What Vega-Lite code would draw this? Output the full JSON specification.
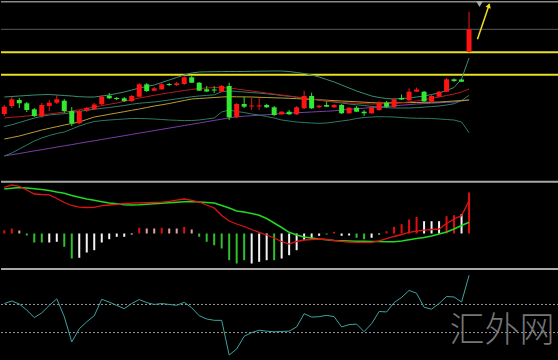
{
"$schema": "https://vega.github.io/schema/vega-lite/v6.json",
"background": "#000000",
"padding": 0,
"spacing": 0,
"config": {"view": {"stroke": null}, "concat": {"spacing": 0}},
"resolve": {"scale": {"color": "independent"}},
"datasets": {
"k": [
{"i":0,"o":66,"h":75,"l":64,"c":73.3,"u":83,"mid":53.5,"lo":24,"r":62,"yl":41,"p":24,"mh":3.3,"hc":"r","md":46.2,"sg":44.5,"cci":106.7},
{"i":1,"o":74,"h":83,"l":72,"c":80.7,"u":83.5,"mid":55.25,"lo":27,"r":62.7,"yl":42.5,"p":25.3,"mh":5,"hc":"r","md":48.5,"sg":45.3,"cci":124.7},
{"i":2,"o":80,"h":82,"l":72,"c":76.7,"u":84,"mid":57.5,"lo":31,"r":63.3,"yl":44,"p":26.5,"mh":3,"hc":"p","md":47.2,"sg":46,"cci":103.3},
{"i":3,"o":76.7,"h":78,"l":68,"c":70,"u":84.5,"mid":59.75,"lo":35,"r":64,"yl":46,"p":27.8,"mh":-2,"hc":"g","md":43.5,"sg":45.5,"cci":60},
{"i":4,"o":70.7,"h":72,"l":63,"c":64,"u":85,"mid":62,"lo":39,"r":64.7,"yl":48,"p":29.1,"mh":-9,"hc":"g","md":39.5,"sg":44.8,"cci":6.7},
{"i":5,"o":64,"h":77,"l":62,"c":75,"u":85.3,"mid":63.65,"lo":42,"r":65.3,"yl":50,"p":30.3,"mh":-9,"hc":"g","md":39,"sg":44,"cci":40},
{"i":6,"o":74,"h":80,"l":69,"c":77.3,"u":85.5,"mid":65,"lo":44.5,"r":66,"yl":51.7,"p":31.6,"mh":-9,"hc":"w","md":38.7,"sg":43,"cci":93.3},
{"i":7,"o":77.3,"h":85,"l":76,"c":80.7,"u":85,"mid":65.75,"lo":46.5,"r":67,"yl":53.3,"p":32.9,"mh":-8.3,"hc":"w","md":35,"sg":41.5,"cci":140},
{"i":8,"o":79.3,"h":81,"l":67,"c":69,"u":84.5,"mid":66.25,"lo":48,"r":68,"yl":55,"p":34.2,"mh":-13.3,"hc":"g","md":31,"sg":40.2,"cci":13.3},
{"i":9,"o":69,"h":73,"l":54,"c":56.7,"u":84,"mid":67.5,"lo":51,"r":69,"yl":56.5,"p":35.4,"mh":-25,"hc":"g","md":28,"sg":38,"cci":-166.7},
{"i":10,"o":56.7,"h":70,"l":56,"c":69,"u":83.3,"mid":68.65,"lo":54,"r":70.3,"yl":58,"p":36.7,"mh":-24.3,"hc":"w","md":26.3,"sg":36.2,"cci":-73.3},
{"i":11,"o":69.5,"h":73,"l":68,"c":72,"u":83,"mid":69.75,"lo":56.5,"r":71.7,"yl":60.5,"p":38,"mh":-19,"hc":"w","md":26,"sg":34.5,"cci":-23.3},
{"i":12,"o":71,"h":77,"l":70,"c":75.5,"u":83,"mid":70.75,"lo":58.5,"r":73,"yl":63,"p":39.2,"mh":-16.7,"hc":"w","md":26.2,"sg":33.2,"cci":20},
{"i":13,"o":75.7,"h":85,"l":75,"c":83.3,"u":84,"mid":71.65,"lo":59.3,"r":74.3,"yl":64.3,"p":40.5,"mh":-9,"hc":"w","md":27.8,"sg":31.8,"cci":136.7},
{"i":14,"o":84.3,"h":87,"l":81,"c":81.7,"u":85,"mid":72.5,"lo":60,"r":75.7,"yl":65.7,"p":41.8,"mh":-5.7,"hc":"w","md":28.5,"sg":30.5,"cci":116.7},
{"i":15,"o":82,"h":83,"l":80,"c":81,"u":86.5,"mid":73.5,"lo":60.5,"r":77,"yl":67,"p":43,"mh":-3.3,"hc":"w","md":29.2,"sg":29.7,"cci":93.3},
{"i":16,"o":81.7,"h":83,"l":78,"c":79,"u":88,"mid":74.5,"lo":61,"r":78.7,"yl":68.3,"p":44.3,"mh":-3.3,"hc":"w","md":29.8,"sg":28.8,"cci":70},
{"i":17,"o":79,"h":85,"l":78,"c":84,"u":90,"mid":75.75,"lo":61.5,"r":80.3,"yl":69.7,"p":45.6,"mh":-1,"hc":"w","md":30.4,"sg":28.5,"cci":106.7},
{"i":18,"o":83.3,"h":97,"l":83,"c":95.7,"u":92,"mid":76.75,"lo":61.5,"r":82,"yl":71,"p":46.9,"mh":5.7,"hc":"r","md":30.6,"sg":28.8,"cci":135.3},
{"i":19,"o":95.7,"h":97,"l":88,"c":89,"u":93.5,"mid":77.4,"lo":61.3,"r":83.3,"yl":72.5,"p":48.1,"mh":5,"hc":"p","md":30.8,"sg":29.3,"cci":113.3},
{"i":20,"o":89.3,"h":93,"l":89,"c":91.7,"u":95,"mid":78,"lo":61,"r":84.7,"yl":74,"p":49.4,"mh":5,"hc":"p","md":31,"sg":29.8,"cci":100},
{"i":21,"o":90.7,"h":97,"l":90,"c":95.7,"u":97.5,"mid":79,"lo":60.5,"r":86,"yl":75.2,"p":50.7,"mh":5.7,"hc":"r","md":31.3,"sg":30.3,"cci":106.7},
{"i":22,"o":96,"h":97,"l":94,"c":95,"u":100,"mid":80,"lo":60,"r":87.2,"yl":76.5,"p":51.9,"mh":5,"hc":"p","md":32.2,"sg":30.8,"cci":100},
{"i":23,"o":95,"h":98,"l":94,"c":96.7,"u":102.5,"mid":81.1,"lo":59.7,"r":88.3,"yl":78,"p":53.2,"mh":5,"hc":"p","md":33.3,"sg":31.3,"cci":94},
{"i":24,"o":96,"h":104,"l":95,"c":102.7,"u":105,"mid":82.2,"lo":59.4,"r":89.5,"yl":79.5,"p":54.5,"mh":6.7,"hc":"r","md":34.5,"sg":31.7,"cci":115.3},
{"i":25,"o":102.7,"h":104,"l":97,"c":97.3,"u":107,"mid":83.25,"lo":59.5,"r":90.5,"yl":81,"p":55.7,"mh":4,"hc":"p","md":33.2,"sg":32,"cci":76.7},
{"i":26,"o":97.3,"h":98,"l":89,"c":89.3,"u":108,"mid":84,"lo":60,"r":91.5,"yl":81.5,"p":57,"mh":-3.3,"hc":"g","md":31.5,"sg":31.5,"cci":20},
{"i":27,"o":90.7,"h":94,"l":88,"c":88.5,"u":108.2,"mid":84.6,"lo":61,"r":92,"yl":82,"p":58.3,"mh":-8.3,"hc":"g","md":28.5,"sg":31,"cci":-3.3},
{"i":28,"o":90.5,"h":94,"l":87,"c":89.5,"u":108.3,"mid":85.15,"lo":62,"r":92.5,"yl":82.5,"p":59.6,"mh":-11.7,"hc":"g","md":25.5,"sg":30.5,"cci":-12.7},
{"i":29,"o":88.3,"h":95,"l":88,"c":94,"u":108.4,"mid":88.2,"lo":68,"r":92.3,"yl":83,"p":60.8,"mh":-15,"hc":"g","md":18,"sg":28,"cci":-13.3},
{"i":30,"o":94,"h":97.3,"l":60,"c":62.7,"u":108.5,"mid":89.25,"lo":70,"r":92,"yl":83.3,"p":62.1,"mh":-26.7,"hc":"g","md":12.5,"sg":25.5,"cci":-260},
{"i":31,"o":62.7,"h":77,"l":62,"c":76,"u":108.5,"mid":88.5,"lo":68.5,"r":91,"yl":83.2,"p":63.3,"mh":-30,"hc":"g","md":9.5,"sg":22.5,"cci":-216.7},
{"i":32,"o":76,"h":83.3,"l":72,"c":73.3,"u":108.5,"mid":88,"lo":67.5,"r":90,"yl":83.1,"p":63.8,"mh":-26.7,"hc":"g","md":7,"sg":21.5,"cci":-126.7},
{"i":33,"o":73.5,"h":82,"l":70,"c":74.5,"u":108.7,"mid":87.35,"lo":66,"r":89,"yl":83,"p":64.3,"mh":-30,"hc":"w","md":4,"sg":20,"cci":-100},
{"i":34,"o":73.5,"h":82,"l":70,"c":74.5,"u":108.8,"mid":86.9,"lo":65,"r":88,"yl":82.7,"p":64.8,"mh":-28.3,"hc":"w","md":1.2,"sg":18.3,"cci":-83.3},
{"i":35,"o":75,"h":76,"l":72,"c":72.7,"u":108.9,"mid":86.2,"lo":63.5,"r":87,"yl":82.5,"p":65.3,"mh":-26.7,"hc":"w","md":-1.5,"sg":15,"cci":-90},
{"i":36,"o":72.7,"h":74,"l":64,"c":65,"u":109,"mid":85.5,"lo":62,"r":86,"yl":82.2,"p":65.8,"mh":-26.7,"hc":"g","md":-4.5,"sg":10.5,"cci":-94.7},
{"i":37,"o":65.7,"h":69,"l":65,"c":68.3,"u":109,"mid":84.5,"lo":60,"r":85,"yl":82,"p":66.5,"mh":-25,"hc":"w","md":-8,"sg":6,"cci":-92},
{"i":38,"o":68.3,"h":70,"l":65,"c":65.7,"u":108.5,"mid":83.75,"lo":59,"r":84,"yl":81.7,"p":66.9,"mh":-21.7,"hc":"w","md":-10.5,"sg":1.2,"cci":-90},
{"i":39,"o":65.7,"h":74,"l":65,"c":72.7,"u":107.5,"mid":82.75,"lo":58,"r":83,"yl":81.3,"p":67.3,"mh":-16.7,"hc":"w","md":-8,"sg":-1.5,"cci":-60},
{"i":40,"o":71.7,"h":89.3,"l":71,"c":84,"u":106.5,"mid":82,"lo":57.5,"r":82,"yl":81,"p":67.6,"mh":-6.7,"hc":"w","md":-6.5,"sg":-3.5,"cci":34.7},
{"i":41,"o":84,"h":87.3,"l":71,"c":71.7,"u":105,"mid":81,"lo":57,"r":81,"yl":80.6,"p":68,"mh":-5,"hc":"w","md":-6,"sg":-4.5,"cci":10},
{"i":42,"o":72.7,"h":75,"l":72,"c":74.3,"u":103,"mid":79.85,"lo":56.7,"r":80,"yl":80.2,"p":68.4,"mh":-2.3,"hc":"w","md":-5.5,"sg":-5.5,"cci":13.3},
{"i":43,"o":75,"h":78.3,"l":73,"c":73.3,"u":100.5,"mid":78.75,"lo":57,"r":79,"yl":79.8,"p":68.8,"mh":-1,"hc":"g","md":-6,"sg":-6.3,"cci":22.7},
{"i":44,"o":72.7,"h":76,"l":72,"c":75,"u":98,"mid":78,"lo":58,"r":78.3,"yl":79.4,"p":69.2,"mh":1.7,"hc":"r","md":-7,"sg":-7,"cci":13.3},
{"i":45,"o":75,"h":76,"l":66,"c":66.7,"u":95,"mid":77,"lo":59,"r":77.7,"yl":79,"p":70,"mh":-2.3,"hc":"w","md":-7.8,"sg":-7.3,"cci":-60},
{"i":46,"o":66.7,"h":73,"l":66,"c":72.3,"u":92,"mid":76,"lo":60,"r":77,"yl":78.6,"p":70.6,"mh":-2,"hc":"w","md":-8.5,"sg":-7.5,"cci":-43.3},
{"i":47,"o":72.3,"h":74,"l":68,"c":68.3,"u":89,"mid":75.25,"lo":61.5,"r":76.7,"yl":78.2,"p":71.2,"mh":-4.3,"hc":"g","md":-8.8,"sg":-7.7,"cci":-40},
{"i":48,"o":68.3,"h":70,"l":64,"c":66.7,"u":86.5,"mid":74.5,"lo":62.5,"r":76.3,"yl":77.8,"p":71.8,"mh":-5.7,"hc":"g","md":-8.8,"sg":-7.8,"cci":-93.3},
{"i":49,"o":66.7,"h":74,"l":66,"c":72.3,"u":84,"mid":73.5,"lo":63,"r":76,"yl":77.4,"p":72.4,"mh":-4.3,"hc":"w","md":-8.8,"sg":-8,"cci":-36.7},
{"i":50,"o":70,"h":79,"l":69,"c":77.3,"u":82.5,"mid":72.9,"lo":63.3,"r":76.2,"yl":77,"p":73,"mh":-1,"hc":"w","md":-7.3,"sg":-8.1,"cci":50},
{"i":51,"o":77.3,"h":79,"l":72,"c":73.3,"u":81.5,"mid":72.35,"lo":63.2,"r":76.3,"yl":77.1,"p":73.6,"mh":2.3,"hc":"r","md":-5.2,"sg":-8.2,"cci":46.7},
{"i":52,"o":73,"h":82,"l":72,"c":80.7,"u":81,"mid":72,"lo":63,"r":76.5,"yl":77.2,"p":74.2,"mh":6.7,"hc":"r","md":-3,"sg":-8.2,"cci":113.3},
{"i":53,"o":82,"h":85.5,"l":80,"c":80.5,"u":81.5,"mid":72,"lo":62.5,"r":77.3,"yl":77.3,"p":74.8,"mh":9.3,"hc":"r","md":-1,"sg":-7.5,"cci":150},
{"i":54,"o":79.7,"h":91.7,"l":79,"c":88.3,"u":82,"mid":72,"lo":62,"r":78.2,"yl":77.4,"p":75.4,"mh":14,"hc":"r","md":1.2,"sg":-6.2,"cci":200},
{"i":55,"o":88.3,"h":92.5,"l":88,"c":90.5,"u":83,"mid":72.35,"lo":61.7,"r":79,"yl":77.5,"p":76,"mh":16.7,"hc":"r","md":2.4,"sg":-5,"cci":180},
{"i":56,"o":88.3,"h":89,"l":78,"c":78.7,"u":84,"mid":72.85,"lo":61.7,"r":80.3,"yl":77.7,"p":76.4,"mh":12.3,"hc":"w","md":3.3,"sg":-4,"cci":80},
{"i":57,"o":78.3,"h":85,"l":78,"c":84,"u":85.5,"mid":73.5,"lo":61.5,"r":81.7,"yl":77.8,"p":76.8,"mh":12.3,"hc":"w","md":4,"sg":-2.5,"cci":66.7},
{"i":58,"o":83.3,"h":89,"l":83,"c":88.3,"u":87,"mid":74,"lo":61,"r":83,"yl":78,"p":77.2,"mh":12.3,"hc":"w","md":4.5,"sg":-0.5,"cci":106.7},
{"i":59,"o":88.3,"h":102,"l":88,"c":100.7,"u":89.5,"mid":75,"lo":60.5,"r":84.5,"yl":78.5,"p":77.6,"mh":17.3,"hc":"r","md":10,"sg":1.5,"cci":156.7},
{"i":60,"o":100.7,"h":101.5,"l":98,"c":99,"u":92.5,"mid":76.25,"lo":60,"r":86,"yl":79,"p":78,"mh":18.3,"hc":"r","md":14.5,"sg":4.5,"cci":153.3},
{"i":61,"o":100.5,"h":101,"l":98,"c":98.3,"u":101,"mid":79.5,"lo":58,"r":88,"yl":79.5,"p":79,"mh":19.3,"hc":"w","md":17.8,"sg":8,"cci":117.3},
{"i":62,"o":128.3,"h":168.3,"l":127.5,"c":150.7,"u":122,"mid":84.65,"lo":47.3,"r":91,"yl":80,"p":80,"mh":41,"hc":"r","md":32.8,"sg":11.2,"cci":307.3}
]
},
"vconcat": [
{
"width": 558, "height": 180,
"layer": [
{"data": {"values": [{"lvl": 178.3}]}, "mark": {"type": "rule", "color": "#8a8a8a", "strokeWidth": 1.5},
 "encoding": {"y": {"field": "lvl", "type": "quantitative", "scale": {"domain": [0, 180], "nice": false, "zero": false}, "axis": null}}},
{"data": {"values": [{"lvl": 150.7}]}, "mark": {"type": "rule", "color": "#5a5a5a", "strokeWidth": 1},
 "encoding": {"y": {"field": "lvl", "type": "quantitative", "scale": {"domain": [0, 180], "nice": false, "zero": false}, "axis": null}}},
{"data": {"values": [{"lvl": 127.7}, {"lvl": 105.3}]}, "mark": {"type": "rule", "color": "#e8e020", "strokeWidth": 2},
 "encoding": {"y": {"field": "lvl", "type": "quantitative", "scale": {"domain": [0, 180], "nice": false, "zero": false}, "axis": null}}},
{"data": {"name": "k"}, "transform": [{"fold": ["p", "lo", "mid", "u", "yl", "r"], "as": ["s", "val"]}],
 "mark": {"type": "line", "strokeWidth": 1},
 "encoding": {
  "x": {"field": "i", "type": "quantitative", "scale": {"domain": [-0.44, 74], "nice": false, "zero": false}, "axis": null},
  "y": {"field": "val", "type": "quantitative", "scale": {"domain": [0, 180], "nice": false, "zero": false}, "axis": null},
  "color": {"field": "s", "type": "nominal", "legend": null, "scale": {"domain": ["p", "lo", "mid", "u", "yl", "r"], "range": ["#7a3ea8", "#2d7a62", "#2f7f6c", "#3a9070", "#b8a030", "#b81c1c"]}}
 }},
{"data": {"name": "k"}, "mark": {"type": "rule", "strokeWidth": 1},
 "encoding": {
  "x": {"field": "i", "type": "quantitative", "scale": {"domain": [-0.44, 74], "nice": false, "zero": false}, "axis": null},
  "y": {"field": "l", "type": "quantitative", "scale": {"domain": [0, 180], "nice": false, "zero": false}, "axis": null},
  "y2": {"field": "h"},
  "color": {"condition": {"test": "datum.c >= datum.o", "value": "#e81818"}, "value": "#2ee02e"}
 }},
{"data": {"name": "k"}, "mark": {"type": "rule", "strokeWidth": 5, "strokeCap": "butt"},
 "encoding": {
  "x": {"field": "i", "type": "quantitative", "scale": {"domain": [-0.44, 74], "nice": false, "zero": false}, "axis": null},
  "y": {"field": "o", "type": "quantitative", "scale": {"domain": [0, 180], "nice": false, "zero": false}, "axis": null},
  "y2": {"field": "c"},
  "color": {"condition": {"test": "datum.c >= datum.o", "value": "#ff1414"}, "value": "#32e832"}
 }},
{"data": {"values": [{"a": 63.12, "b": 140.7, "a2": 64.7, "b2": 175.5}]}, "mark": {"type": "rule", "color": "#f0e020", "strokeWidth": 1.5},
 "encoding": {
  "x": {"field": "a", "type": "quantitative", "scale": {"domain": [-0.44, 74], "nice": false, "zero": false}, "axis": null},
  "x2": {"field": "a2"},
  "y": {"field": "b", "type": "quantitative", "scale": {"domain": [0, 180], "nice": false, "zero": false}, "axis": null},
  "y2": {"field": "b2"}
 }},
{"data": {"values": [{"a": 64.65, "b": 174.5}]}, "mark": {"type": "point", "shape": "triangle-up", "angle": 19, "filled": true, "color": "#f0e020", "size": 30, "opacity": 1},
 "encoding": {
  "x": {"field": "a", "type": "quantitative", "scale": {"domain": [-0.44, 74], "nice": false, "zero": false}, "axis": null},
  "y": {"field": "b", "type": "quantitative", "scale": {"domain": [0, 180], "nice": false, "zero": false}, "axis": null}
 }},
{"data": {"values": [{"a": 63.4, "b": 176}]}, "mark": {"type": "point", "shape": "triangle-down", "filled": true, "color": "#a8a8a8", "size": 50, "opacity": 1},
 "encoding": {
  "x": {"field": "a", "type": "quantitative", "scale": {"domain": [-0.44, 74], "nice": false, "zero": false}, "axis": null},
  "y": {"field": "b", "type": "quantitative", "scale": {"domain": [0, 180], "nice": false, "zero": false}, "axis": null}
 }}
]
},
{
"width": 558, "height": 89,
"layer": [
{"data": {"values": [{"lvl": 51.8}, {"lvl": -35.6}]}, "mark": {"type": "rule", "color": "#a8a8a8", "strokeWidth": 2},
 "encoding": {"y": {"field": "lvl", "type": "quantitative", "scale": {"domain": [-36.5, 52.5], "nice": false, "zero": false}, "axis": null}}},
{"data": {"name": "k"}, "mark": {"type": "rule", "strokeWidth": 2, "strokeCap": "butt"},
 "encoding": {
  "x": {"field": "i", "type": "quantitative", "scale": {"domain": [-0.44, 74], "nice": false, "zero": false}, "axis": null},
  "y": {"field": "mh", "type": "quantitative", "scale": {"domain": [-36.5, 52.5], "nice": false, "zero": false}, "axis": null},
  "y2": {"datum": 0},
  "color": {"field": "hc", "type": "nominal", "legend": null, "scale": {"domain": ["r", "p", "w", "g"], "range": ["#e01010", "#e8a0a8", "#f4f4f4", "#2ec02e"]}}
 }},
{"data": {"name": "k"}, "mark": {"type": "line", "color": "#22d822", "strokeWidth": 1.5},
 "encoding": {
  "x": {"field": "i", "type": "quantitative", "scale": {"domain": [-0.44, 74], "nice": false, "zero": false}, "axis": null},
  "y": {"field": "sg", "type": "quantitative", "scale": {"domain": [-36.5, 52.5], "nice": false, "zero": false}, "axis": null}
 }},
{"data": {"name": "k"}, "mark": {"type": "line", "color": "#e01414", "strokeWidth": 1.3},
 "encoding": {
  "x": {"field": "i", "type": "quantitative", "scale": {"domain": [-0.44, 74], "nice": false, "zero": false}, "axis": null},
  "y": {"field": "md", "type": "quantitative", "scale": {"domain": [-36.5, 52.5], "nice": false, "zero": false}, "axis": null}
 }}
]
},
{
"width": 558, "height": 91,
"layer": [
{"data": {"values": [{"lvl": 100}, {"lvl": -100}]}, "mark": {"type": "rule", "color": "#9a9a9a", "strokeWidth": 1, "strokeDash": [2, 2]},
 "encoding": {"y": {"field": "lvl", "type": "quantitative", "scale": {"domain": [-309.5, 338.2], "nice": false, "zero": false}, "axis": null}}},
{"data": {"values": [{"t": "汇外网", "a": 66.4, "b": -92}]}, "mark": {"type": "text", "font": "Noto Sans CJK SC", "fontSize": 35, "fontWeight": 300, "color": "#8a8a8a", "opacity": 0.85, "baseline": "middle", "align": "center"},
 "encoding": {
  "x": {"field": "a", "type": "quantitative", "scale": {"domain": [-0.44, 74], "nice": false, "zero": false}, "axis": null},
  "y": {"field": "b", "type": "quantitative", "scale": {"domain": [-309.5, 338.2], "nice": false, "zero": false}, "axis": null},
  "text": {"field": "t"}
 }},
{"data": {"name": "k"}, "mark": {"type": "line", "color": "#3fa3a0", "strokeWidth": 1},
 "encoding": {
  "x": {"field": "i", "type": "quantitative", "scale": {"domain": [-0.44, 74], "nice": false, "zero": false}, "axis": null},
  "y": {"field": "cci", "type": "quantitative", "scale": {"domain": [-309.5, 338.2], "nice": false, "zero": false}, "axis": null}
 }}
]
}
]
}
